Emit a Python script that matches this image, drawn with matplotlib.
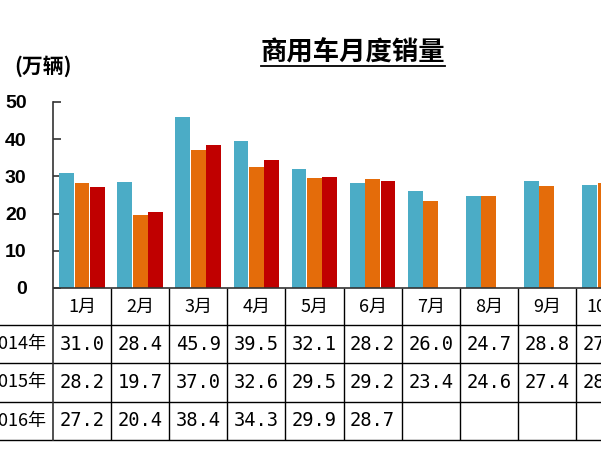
import numpy as np
import matplotlib
matplotlib.use('Agg')
import matplotlib.pyplot as plt
from matplotlib.lines import Line2D

# data (万辆)
months = ['1月', '2月', '3月', '4月', '5月', '6月', '7月', '8月', '9月', '10月']
years = ['2014年', '2015年', '2016年']
sales_2014 = [31.0, 28.4, 45.9, 39.5, 32.1, 28.2, 26.0, 24.7, 28.8, 27.7]
sales_2015 = [28.2, 19.7, 37.0, 32.6, 29.5, 29.2, 23.4, 24.6, 27.4, 28.3]
sales_2016 = [27.2, 20.4, 38.4, 34.3, 29.9, 28.7]
series = [sales_2014, sales_2015, sales_2016]
colors = ['#4BACC6', '#E46C0A', '#C00000']

CJK = ['Noto Sans CJK SC', 'DejaVu Sans']
MONO = ['DejaVu Sans Mono']

W, H = 601, 450
fig = plt.figure(figsize=(W / 100, H / 100), dpi=100)

# axes: y=50 at 102px, table bottom at 440px, category width ~58.1px
px_unit = 3.72
y_bot = -(440 - 288) / px_unit
cat_w = 58.1
ax = fig.add_axes([53 / W, (H - 440) / H, len(months) * cat_w / W, (440 - 102) / H])
ax.set_xlim(0, len(months))
ax.set_ylim(y_bot, 50)

# bars
offsets = [-0.265, 0.0, 0.265]
for vals, off, c in zip(series, offsets, colors):
    x = np.arange(len(vals)) + 0.5 + off
    ax.bar(x, vals, width=0.255, color=c, zorder=2)

# axes styling
for s in ['top', 'right', 'bottom']:
    ax.spines[s].set_visible(False)
ax.spines['left'].set_color('#333333')
ax.spines['left'].set_linewidth(1.2)
ax.set_xticks([])
ax.set_yticks([0, 10, 20, 30, 40, 50])
ax.tick_params(axis='y', direction='in', length=6, width=1.2, color='#333333', pad=19)
for lab in ax.get_yticklabels():
    lab.set_fontfamily('Liberation Sans')
    lab.set_fontweight('bold')
    lab.set_fontsize(14)

# table grid
row_lines = [0, -(325 - 288) / px_unit, -(363 - 288) / px_unit, -(402 - 288) / px_unit, y_bot]
ax.axhline(0, color='#333333', lw=1.2, zorder=3)
for yl in row_lines[1:]:
    ax.hlines(yl, -1.0, len(months) + 0.5, color='black', lw=1.0, clip_on=False)
for i in range(1, len(months) + 1):
    ax.vlines(i, y_bot, 0, color='black', lw=1.0, clip_on=False)

# header row
hdr_y = (row_lines[0] + row_lines[1]) / 2
for i, m in enumerate(months):
    ax.text(i + 0.5, hdr_y, m, ha='center', va='center', fontsize=13,
            family=CJK, clip_on=False)

# data rows
for r, (yr, vals) in enumerate(zip(years, series)):
    yc = (row_lines[r + 1] + row_lines[r + 2]) / 2
    ax.text(-0.12, yc, yr, ha='right', va='center', fontsize=13,
            family=CJK, clip_on=False)
    for i, v in enumerate(vals):
        ax.text(i + 0.5, yc, f'{v:.1f}', ha='center', va='center', fontsize=13.5,
                family=MONO, clip_on=False)

# title and unit
fig.text(353 / W, 1 - 53 / H, '商用车月度销量', ha='center', va='center',
         fontsize=19, fontweight='bold', family=CJK)
fig.add_artist(Line2D([261 / W, 445 / W], [1 - 66 / H, 1 - 66 / H],
                      color='black', lw=1.3, transform=fig.transFigure))
fig.text(43 / W, 1 - 66 / H, '(万辆)', ha='center', va='center',
         fontsize=15, fontweight='bold', family=CJK)

fig.savefig('out.png', dpi=100)
